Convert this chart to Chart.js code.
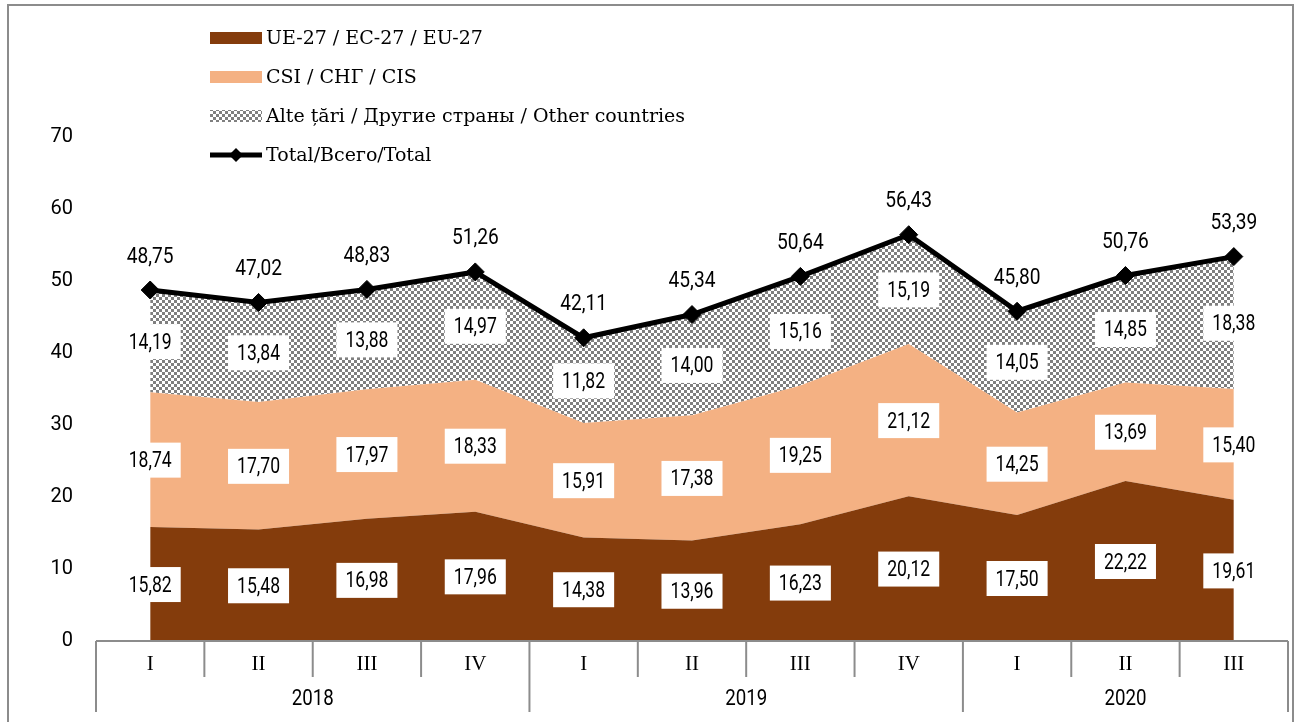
<!DOCTYPE html>
<html>
<head>
    <meta charset="utf-8" />
    <title>Export by groups of countries</title>
    <script src="https://cdn.jsdelivr.net/npm/chart.js@4.4.1/dist/chart.umd.min.js"></script>
    <style>
        body { margin: 0; background: #fff; }
        #wrap { width: 1299px; height: 722px; }
    </style>
</head>
<body>
<div id="wrap"><canvas id="myChart" width="1299" height="722"></canvas></div>
<script>

// ---- data ----
var quarters = ['I', 'II', 'III', 'IV', 'I', 'II', 'III', 'IV', 'I', 'II', 'III'];
var years = ['2018', '2019', '2020'];
var yearSpans = [4, 4, 3];

var euValues    = [15.82, 15.48, 16.98, 17.96, 14.38, 13.96, 16.23, 20.12, 17.50, 22.22, 19.61];
var cisValues   = [18.74, 17.70, 17.97, 18.33, 15.91, 17.38, 19.25, 21.12, 14.25, 13.69, 15.40];
var otherValues = [14.19, 13.84, 13.88, 14.97, 11.82, 14.00, 15.16, 15.19, 14.05, 14.85, 18.38];
var totalValues = [48.75, 47.02, 48.83, 51.26, 42.11, 45.34, 50.64, 56.43, 45.80, 50.76, 53.39];

var seriesNames = ['UE-27 / EC-27 / EU-27', 'CSI / СНГ / CIS', 'Alte țări / Другие страны / Other countries', 'Total/Всего/Total'];
var yMin = 0, yMax = 70, yStep = 10;

var BROWN = '#843C0C';
var PEACH = '#F4B183';
var GREY = '#8C8C8C';
var serif = '"DejaVu Serif", "Liberation Serif", serif';
var roman = '"Liberation Serif", serif';
var sans = 'Roboto, "Liberation Sans", sans-serif';

// checker pattern for "other countries"
function makeChecker() {
    var c = document.createElement('canvas');
    c.width = 6; c.height = 6;
    var g = c.getContext('2d');
    g.fillStyle = '#fff';
    g.fillRect(0, 0, 6, 6);
    g.fillStyle = '#7F7F7F';
    g.fillRect(0, 0, 3, 3);
    g.fillRect(3, 3, 3, 3);
    return g.createPattern(c, 'repeat');
}
var checker = makeChecker();

function fmt(v) {
    return v.toFixed(2).replace('.', ',');
}

// narrow text: squeeze horizontally around its centre
function narrowText(ctx, txt, x, y, k) {
    ctx.save();
    ctx.translate(x, y);
    ctx.scale(k, 1);
    ctx.fillText(txt, 0, 0);
    ctx.restore();
}

function diamond(ctx, x, y, r) {
    ctx.beginPath();
    ctx.moveTo(x, y - r);
    ctx.lineTo(x + r, y);
    ctx.lineTo(x, y + r);
    ctx.lineTo(x - r, y);
    ctx.closePath();
    ctx.fill();
}

var decor = {
    id: 'decor',
    beforeDraw: function(chart) {
        var ctx = chart.ctx;
        ctx.save();
        ctx.fillStyle = '#fff';
        ctx.fillRect(0, 0, chart.width, chart.height);
        ctx.strokeStyle = GREY;
        ctx.lineWidth = 2;
        ctx.strokeRect(8, 5, 1285, 740);
        ctx.restore();
    },
    afterDatasetsDraw: function(chart) {
        var ctx = chart.ctx;
        var y = chart.scales.y;
        var stacked = [euValues, cisValues, otherValues];
        ctx.save();
        ctx.font = '22px ' + sans;
        ctx.textAlign = 'center';
        ctx.textBaseline = 'middle';
        for (var j = 0; j < quarters.length; j++) {
            var base = 0;
            for (var s = 0; s < stacked.length; s++) {
                var v = stacked[s][j];
                var px = chart.getDatasetMeta(s).data[j].x;
                var py = y.getPixelForValue(base + v / 2);
                var txt = fmt(v);
                var w = ctx.measureText(txt).width * 0.8;
                ctx.fillStyle = '#fff';
                ctx.fillRect(px - w / 2 - 9, py - 17, w + 18, 35);
                ctx.fillStyle = '#000';
                narrowText(ctx, txt, px, py + 2, 0.8);
                base += v;
            }
            var pt = chart.getDatasetMeta(3).data[j];
            ctx.fillStyle = '#000';
            narrowText(ctx, fmt(totalValues[j]), pt.x, pt.y - 33, 0.87);
        }
        ctx.restore();
    },
    afterDraw: function(chart) {
        var ctx = chart.ctx;
        var x = chart.scales.x;
        var area = chart.chartArea;
        var bottom = area.bottom;
        ctx.save();

        // category axis, two levels
        ctx.strokeStyle = GREY;
        ctx.lineWidth = 2;
        ctx.beginPath();
        ctx.moveTo(area.left, bottom);
        ctx.lineTo(area.right, bottom);
        ctx.stroke();

        var yearEnds = [0];
        var acc = 0;
        for (var k = 0; k < yearSpans.length; k++) { acc += yearSpans[k]; yearEnds.push(acc); }

        function boundary(i) {
            if (i <= 0) return area.left;
            if (i >= quarters.length) return area.right;
            return (x.getPixelForValue(i - 1) + x.getPixelForValue(i)) / 2;
        }
        for (var i = 0; i <= quarters.length; i++) {
            var bx = boundary(i);
            var len = yearEnds.indexOf(i) >= 0 ? 71 : 36;
            ctx.beginPath();
            ctx.moveTo(bx, bottom);
            ctx.lineTo(bx, bottom + len);
            ctx.stroke();
        }

        ctx.fillStyle = '#000';
        ctx.textAlign = 'center';
        ctx.textBaseline = 'middle';
        ctx.font = '21px ' + roman;
        for (var q = 0; q < quarters.length; q++) {
            ctx.fillText(quarters[q], x.getPixelForValue(q), bottom + 23);
        }
        ctx.font = '22px ' + sans;
        for (var yr = 0; yr < years.length; yr++) {
            var cx = (boundary(yearEnds[yr]) + boundary(yearEnds[yr + 1])) / 2;
            narrowText(ctx, years[yr], cx, bottom + 58, 0.85);
        }

        // legend
        var fills = [BROWN, PEACH, checker];
        var rows = [38, 77, 116, 155];
        ctx.font = '19px ' + serif;
        ctx.textAlign = 'left';
        for (var r = 0; r < 4; r++) {
            var ry = rows[r];
            if (r < 3) {
                ctx.fillStyle = fills[r];
                ctx.fillRect(210, ry - 6, 52, 12);
            } else {
                ctx.strokeStyle = '#000';
                ctx.lineWidth = 5;
                ctx.beginPath();
                ctx.moveTo(210, ry);
                ctx.lineTo(262, ry);
                ctx.stroke();
                ctx.fillStyle = '#000';
                diamond(ctx, 236, ry, 7);
            }
            ctx.fillStyle = '#000';
            ctx.fillText(seriesNames[r], 266, ry + 1);
        }
        ctx.restore();
    }
};

var ctx = document.getElementById('myChart').getContext('2d');
var chart = new Chart(ctx, {
    type: 'line',
    data: {
        labels: quarters,
        datasets: [{
            label: seriesNames[0],
            data: euValues,
            backgroundColor: BROWN,
            borderColor: 'rgba(0,0,0,0)',
            borderWidth: 0,
            pointRadius: 0,
            fill: 'origin',
            order: 1
        }, {
            label: seriesNames[1],
            data: cisValues,
            backgroundColor: PEACH,
            borderColor: 'rgba(0,0,0,0)',
            borderWidth: 0,
            pointRadius: 0,
            fill: '-1',
            order: 1
        }, {
            label: seriesNames[2],
            data: otherValues,
            backgroundColor: checker,
            borderColor: 'rgba(0,0,0,0)',
            borderWidth: 0,
            pointRadius: 0,
            fill: '-1',
            order: 1
        }, {
            label: seriesNames[3],
            data: totalValues,
            stack: 'total',
            borderColor: '#000',
            backgroundColor: '#000',
            borderWidth: 5,
            pointStyle: 'rectRot',
            pointRadius: 9,
            pointBorderWidth: 1,
            pointBackgroundColor: '#000',
            fill: false,
            order: 0
        }]
    },
    options: {
        responsive: false,
        animation: false,
        layout: { padding: { top: 137, right: 11, bottom: 81, left: 0 } },
        plugins: {
            legend: { display: false },
            tooltip: { enabled: false }
        },
        scales: {
            x: {
                display: false,
                offset: true
            },
            y: {
                stacked: true,
                min: yMin,
                max: yMax,
                ticks: {
                    stepSize: yStep,
                    padding: 23,
                    color: '#000',
                    font: { family: sans, size: 20 }
                },
                grid: { display: false, drawTicks: false },
                border: { display: false },
                afterFit: function(scale) { scale.width = 96; }
            }
        }
    },
    plugins: [decor]
});
</script>
</body>
</html>
